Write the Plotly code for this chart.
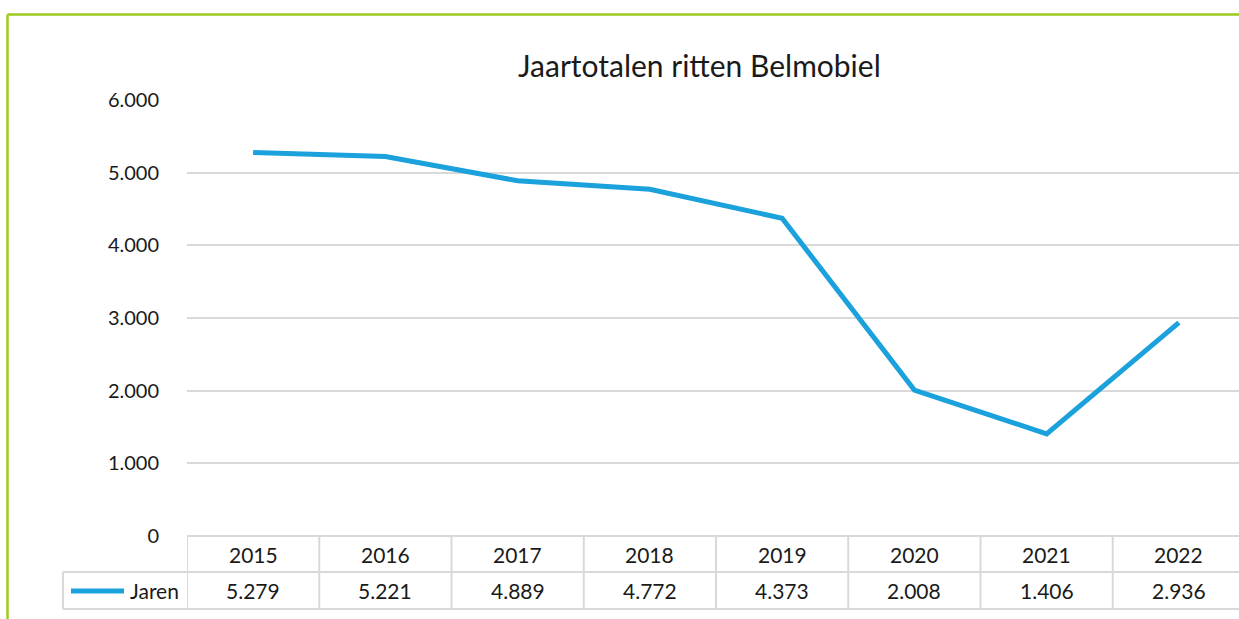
import plotly.graph_objects as go

years = ["2015", "2016", "2017", "2018", "2019", "2020", "2021", "2022"]
values = [5279, 5221, 4889, 4772, 4373, 2008, 1406, 2936]
series_name = "Jaren"
title_text = "Jaartotalen ritten Belmobiel"
y_ticks = [0, 1000, 2000, 3000, 4000, 5000, 6000]

W, H = 1247, 619
L, R, T, B = 187, 2, 100, 83
PW = W - L - R
PH = H - T - B

def px_x(px):
    return (px - L) / PW

def px_y(py):
    return (H - B - py) / PH

def fmt(v):
    return f"{v:,}".replace(",", ".")

LINE = "#1BA1DB"
GRID = "#D9D9D9"
GREEN = "#9ACB1E"
FONT = "Lato"
TXT = "#1a1a1a"

fig = go.Figure()
xs = list(range(len(years)))
fig.add_trace(go.Scatter(x=xs, y=values, mode="lines", name=series_name,
                         line=dict(color=LINE, width=5), hoverinfo="skip"))

shapes = []
annotations = []

row0, row1, row2 = px_y(536), px_y(572), px_y(609)
shapes.append(dict(type="line", xref="x", yref="paper", x0=-0.5, x1=len(years) - 0.5,
                   y0=row0, y1=row0, line=dict(color=GRID, width=2)))
shapes.append(dict(type="line", xref="paper", yref="paper", x0=px_x(63), x1=1,
                   y0=row1, y1=row1, line=dict(color=GRID, width=2)))
shapes.append(dict(type="line", xref="paper", yref="paper", x0=px_x(63), x1=1,
                   y0=row2, y1=row2, line=dict(color=GRID, width=2)))
for i in range(len(years) + 1):
    shapes.append(dict(type="line", xref="x", yref="paper", x0=i - 0.5, x1=i - 0.5,
                       y0=row0, y1=row2, line=dict(color=GRID, width=2)))
shapes.append(dict(type="line", xref="paper", yref="paper", x0=px_x(63), x1=px_x(63),
                   y0=row1, y1=row2, line=dict(color=GRID, width=2)))
shapes.append(dict(type="line", xref="paper", yref="paper", x0=px_x(71), x1=px_x(124),
                   y0=px_y(591), y1=px_y(591), line=dict(color=LINE, width=5)))
shapes.append(dict(type="line", xref="paper", yref="paper", x0=px_x(7.5), x1=px_x(1250),
                   y0=px_y(14.5), y1=px_y(14.5), line=dict(color=GREEN, width=2.5)))
shapes.append(dict(type="line", xref="paper", yref="paper", x0=px_x(7.5), x1=px_x(7.5),
                   y0=px_y(14.5), y1=px_y(630), line=dict(color=GREEN, width=2.5)))

tf = dict(family=FONT, size=21, color=TXT)
for i, (yr, v) in enumerate(zip(years, values)):
    annotations.append(dict(x=i, y=(row0 + row1) / 2, xref="x", yref="paper", text=yr,
                            xanchor="center", yanchor="middle", showarrow=False, font=tf))
    annotations.append(dict(x=i, y=(row1 + row2) / 2, xref="x", yref="paper", text=fmt(v),
                            xanchor="center", yanchor="middle", showarrow=False, font=tf))
annotations.append(dict(x=px_x(181), y=(row1 + row2) / 2, xref="paper", yref="paper",
                        text=series_name, xanchor="right", yanchor="middle", showarrow=False,
                        font=tf))
annotations.append(dict(x=px_x(699), y=px_y(65), xref="paper", yref="paper",
                        text=title_text, xanchor="center", yanchor="middle", showarrow=False,
                        font=dict(family=FONT, size=30, color=TXT)))

fig.update_layout(
    width=W, height=H,
    margin=dict(l=L, r=R, t=T, b=B),
    paper_bgcolor="white", plot_bgcolor="white",
    separators=",.",
    showlegend=False,
    shapes=shapes,
    annotations=annotations,
    xaxis=dict(range=[-0.5, len(years) - 0.5], showgrid=False, zeroline=False,
               showticklabels=False, showline=False, fixedrange=True),
    yaxis=dict(range=[0, 6000], tickvals=y_ticks, tickformat=",d",
               showgrid=True, gridcolor=GRID, gridwidth=1.5, zeroline=False,
               showline=False, ticks="", ticklabelstandoff=27,
               tickfont=dict(family=FONT, size=20, color=TXT), fixedrange=True),
)

fig.write_html("out.html", config={"displayModeBar": False},
               post_script="document.body.style.margin='0';document.body.style.overflow='hidden';")
